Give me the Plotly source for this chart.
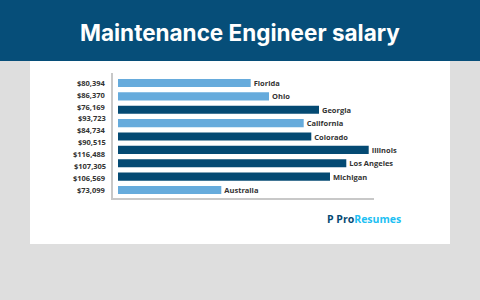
import plotly.graph_objects as go

locations = ["Florida", "Ohio", "Georgia", "California", "Colorado",
             "Illinois", "Los Angeles", "Michigan", "Australia"]
# the reference shows 10 salary labels beside 9 bars; kept as drawn
tick_labels = ["$80,394", "$86,370", "$76,169", "$93,723", "$84,734",
               "$90,515", "$116,488", "$107,305", "$106,569", "$73,099"]
bar_lengths = [132.7, 151, 201, 185.7, 193.3, 250.7, 228.3, 212, 103.3]
bar_shades = ["light", "light", "dark", "light", "dark", "dark", "dark", "dark", "light"]

LIGHT = "#66abdc"
DARK = "#044a73"
BANNER = "#064e79"
BG = "#dedede"
TXT = "#333333"
FONT = "Open Sans"

colors = [LIGHT if s == "light" else DARK for s in bar_shades]

fig = go.Figure()
fig.add_trace(go.Bar(
    y=locations, x=bar_lengths, orientation="h",
    marker=dict(color=colors, line=dict(width=0)),
    width=0.6,
    text=["<b>%s</b>" % l for l in locations],
    textposition="outside", constraintext="none", cliponaxis=False,
    textfont=dict(family=FONT, size=7.5, color=TXT),
    hoverinfo="skip",
))

# plot area: x 113..374 px, y 73..198 px
def px_x(p):
    return (p - 113) / 261

def px_y(p):
    return (198 - p) / 125

n = len(tick_labels)
for i, lab in enumerate(tick_labels):
    fig.add_annotation(
        xref="paper", yref="paper",
        x=px_x(108), y=px_y(82.7 + i * (190 - 82.7) / (n - 1)),
        text="<b>%s</b>" % lab, showarrow=False,
        xanchor="right", yanchor="middle",
        font=dict(family=FONT, size=7.5, color=TXT),
    )

fig.add_shape(type="rect", xref="paper", yref="paper", layer="below",
              x0=px_x(0), x1=px_x(480), y0=px_y(61), y1=px_y(0),
              fillcolor=BANNER, line=dict(width=0))
fig.add_shape(type="rect", xref="paper", yref="paper", layer="below",
              x0=px_x(30), x1=px_x(450), y0=px_y(244), y1=px_y(61),
              fillcolor="white", line=dict(width=0))

fig.add_annotation(xref="paper", yref="paper", x=px_x(240), y=px_y(33),
                   text="<b>Maintenance Engineer salary</b>", showarrow=False,
                   xanchor="center", yanchor="middle",
                   font=dict(family="Inter", size=22.5, color="white"))

fig.add_annotation(xref="paper", yref="paper", x=px_x(325), y=px_y(219),
                   text="<b><span style='color:%s'>P</span> <span style='color:%s'>Pro</span><span style='color:#22bff3'>Resumes</span></b>" % (DARK, DARK),
                   showarrow=False, xanchor="left", yanchor="middle",
                   font=dict(family=FONT, size=10.5, color=DARK))

fig.update_layout(
    width=480, height=300,
    margin=dict(l=113, r=106, t=73, b=102, pad=0),
    paper_bgcolor=BG, plot_bgcolor="rgba(0,0,0,0)",
    showlegend=False,
    xaxis=dict(range=[-5, 256], showgrid=False, zeroline=False,
               showticklabels=False, showline=True, linecolor="#c8c8c8",
               linewidth=1.5, ticks=""),
    yaxis=dict(range=[8.598, -0.748], showgrid=False, zeroline=False,
               showticklabels=False, showline=True, linecolor="#c8c8c8",
               linewidth=1.5, ticks=""),
)

fig.write_html("out.html")
